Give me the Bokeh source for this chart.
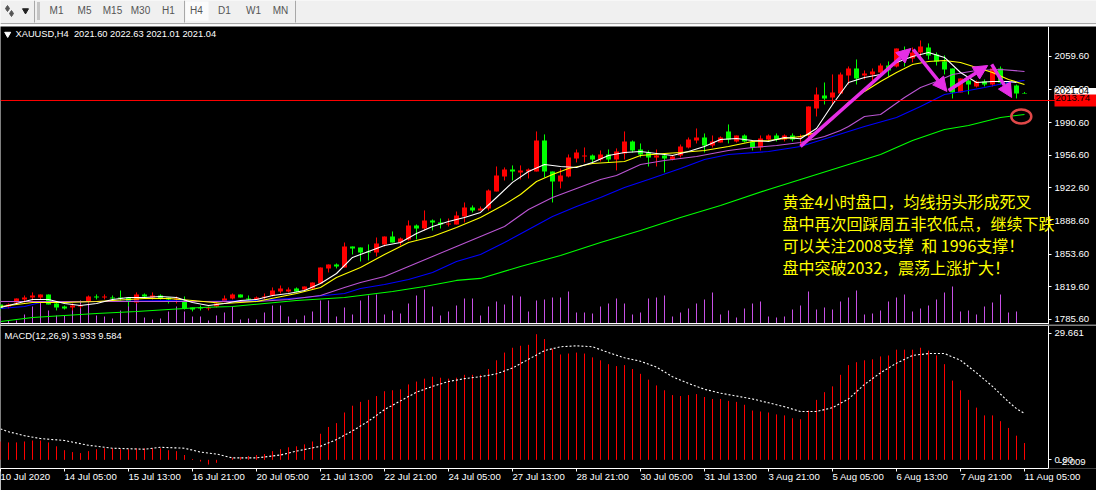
from bokeh.plotting import figure
from bokeh.layouts import column
from bokeh.models import (Range1d, LinearAxis, FixedTicker, Span, Label, Arrow, NormalHead,
                          NumeralTickFormatter)
from bokeh.core.properties import value
from bokeh.embed import file_html
from bokeh.resources import INLINE

FONT = "Liberation Sans"

opens = [1801.3,1799.2,1803.3,1806.5,1808.5,1808.5,1811.7,1802.3,1799.2,1798.1,1799.2,1804.4,1809.6,1808.5,1808.5,1808.5,1808.5,1803.3,1811.7,1808.5,
1810.6,1808.5,1806.5,1804.4,1798.1,1798.1,1797.1,1799.2,1804.4,1807.5,1811.7,1807.5,1806.5,1808.5,1810.6,1814.8,1814.8,1817.9,1816.9,1817.9,
1823.1,1838.8,1842.9,1839.8,1861.7,1860.6,1856.5,1855.4,1863.8,1872.1,1865.8,1869.0,1883.5,1880.4,1888.8,1886.7,1884.6,1884.6,1892.9,1902.3,
1899.2,1901.3,1919.0,1934.6,1941.9,1938.8,1939.8,1939.8,1972.1,1939.8,1929.4,1934.6,1953.4,1955.4,1956.5,1952.3,1957.5,1952.3,1958.6,1971.1,
1962.7,1959.6,1954.4,1956.5,1952.3,1956.5,1964.8,1972.1,1975.2,1966.9,1970.0,1981.5,1971.1,1977.3,1971.1,1964.8,1973.1,1977.3,1973.1,1977.3,
1975.2,1977.3,2005.4,2019.0,2016.9,2021.1,2039.8,2047.1,2039.8,2040.9,2042.9,2050.2,2049.2,2065.9,2057.5,2063.8,2069.0,2061.7,2054.4,2047.1,
2022.1,2034.6,2028.4,2033.6,2030.4,2047.1,2032.5,2029.4,2021.60]
highs = [1801.3,1802.3,1807.5,1810.6,1813.8,1811.7,1811.7,1804.4,1800.2,1802.3,1801.3,1810.6,1811.7,1811.7,1810.6,1815.8,1808.5,1813.8,1812.7,1813.8,
1811.7,1808.5,1809.6,1809.6,1798.1,1800.2,1799.2,1803.3,1810.6,1812.7,1811.7,1810.6,1809.6,1812.7,1819.0,1821.0,1819.0,1819.0,1820.0,1824.2,
1839.8,1842.9,1844.0,1865.8,1861.7,1860.6,1863.8,1871.0,1872.1,1877.3,1871.0,1888.8,1884.6,1899.2,1889.8,1890.8,1890.8,1898.1,1907.5,1904.4,
1903.3,1921.1,1945.0,1944.0,1946.1,1946.1,1942.9,1981.5,1978.4,1939.8,1942.9,1957.5,1962.7,1964.8,1957.5,1961.7,1962.7,1963.8,1981.5,1972.1,
1969.0,1961.7,1962.7,1957.5,1956.5,1967.9,1975.2,1984.6,1979.4,1977.3,1976.3,1988.8,1977.3,1978.4,1971.1,1977.3,1978.4,1979.4,1978.4,1979.4,
1978.4,2007.5,2027.3,2032.5,2040.9,2042.9,2049.2,2056.5,2045.0,2047.1,2052.3,2054.4,2067.9,2070.0,2069.0,2076.3,2073.2,2063.8,2060.7,2047.1,
2036.7,2038.8,2034.6,2035.7,2048.2,2049.2,2032.5,2030.4,2022.63]
lows = [1795.0,1797.1,1802.3,1803.3,1805.4,1806.5,1801.3,1795.0,1796.0,1795.0,1797.1,1802.3,1806.5,1806.5,1805.4,1805.4,1799.2,1802.3,1808.5,1806.5,
1806.5,1802.3,1802.3,1796.0,1794.0,1795.0,1795.0,1798.1,1803.3,1806.5,1808.5,1804.4,1805.4,1806.5,1809.6,1812.7,1813.8,1813.8,1814.8,1816.9,
1823.1,1834.6,1838.8,1839.8,1853.3,1846.0,1847.1,1851.3,1861.7,1865.8,1862.7,1867.9,1869.0,1878.3,1878.3,1880.4,1882.5,1884.6,1886.7,1897.1,
1899.2,1899.2,1919.0,1930.4,1930.4,1931.5,1932.5,1939.8,1933.6,1907.5,1922.1,1933.6,1949.2,1949.2,1949.2,1950.2,1949.2,1940.9,1952.3,1959.6,
1954.4,1945.0,1945.0,1938.8,1951.3,1954.4,1963.8,1969.0,1959.6,1964.8,1970.0,1969.0,1970.0,1970.0,1961.7,1961.7,1972.1,1971.1,1971.1,1971.1,
1966.9,1975.2,1997.1,2009.6,2009.6,2021.1,2030.4,2030.4,2035.7,2034.6,2040.9,2038.8,2048.2,2049.2,2053.4,2059.6,2056.5,2050.2,2040.9,2015.9,
2022.1,2020.0,2027.3,2028.4,2028.4,2030.4,2026.3,2015.9,2021.01]
closes = [1797.1,1801.3,1807.5,1808.5,1810.6,1811.7,1801.3,1798.1,1797.1,1800.2,1800.2,1809.6,1808.5,1809.6,1807.5,1807.5,1804.4,1811.7,1809.6,1810.6,
1807.5,1806.5,1807.5,1797.1,1796.0,1797.1,1798.1,1802.3,1807.5,1811.7,1808.5,1806.5,1808.5,1809.6,1815.8,1817.9,1816.9,1814.8,1820.0,1824.2,
1839.8,1842.9,1840.8,1861.7,1859.6,1855.4,1855.4,1864.8,1872.1,1865.8,1870.0,1883.5,1880.4,1888.8,1886.7,1884.6,1885.6,1894.0,1902.3,1899.2,
1901.3,1920.0,1935.6,1941.9,1939.8,1940.9,1941.9,1972.1,1939.8,1929.4,1935.6,1954.4,1959.6,1956.5,1952.3,1957.5,1952.3,1960.6,1971.1,1961.7,
1957.5,1954.4,1956.5,1953.4,1955.4,1965.9,1973.1,1975.2,1966.9,1971.1,1975.2,1973.1,1977.3,1971.1,1964.8,1974.2,1977.3,1973.1,1977.3,1973.1,
1976.3,2007.5,2020.0,2015.9,2022.1,2040.9,2047.1,2036.7,2041.9,2044.0,2050.2,2045.0,2067.9,2056.5,2063.8,2070.0,2060.7,2054.4,2046.1,2022.1,
2036.7,2030.4,2033.6,2030.4,2047.1,2032.5,2027.3,2021.1,2021.04]

volumes = [7,3,3,9,17,22,13,8,8,14,23,20,8,7,5,13,20,23,6,4,5,12,17,12,7,7,3,8,11,17,4,5,4,11,18,18,7,4,8,12,23,23,7,16,9,
23,28,29,9,13,10,20,28,34,17,8,12,18,25,25,8,17,22,19,28,27,12,23,24,26,26,32,11,11,10,17,20,25,20,9,11,25,26,28,7,11,15,20,
24,31,9,13,6,15,20,22,7,6,7,14,18,32,14,16,14,22,26,33,9,10,13,22,26,29,12,15,18,24,31,37,12,13,9,17,21,29,11,12,0]

ma_white_idx = list(range(0, 127, 2)) + [127]
ma_white = [1798.1,1802.3,1806.5,1806.5,1802.3,1800.2,1802.3,1806.5,1808.5,1808.5,1809.6,1808.5,1803.3,1800.2,1802.3,1805.4,1806.5,1810.6,1812.7,1815.8,1823.1,
1833.5,1850.2,1856.5,1862.7,1865.8,1875.2,1882.5,1887.7,1891.9,1897.1,1912.7,1928.4,1939.8,1947.1,1945.0,1944.0,1949.2,1956.5,1959.6,1960.6,1958.6,1956.5,1960.6,
1965.9,1973.1,1974.2,1972.1,1971.1,1975.2,1973.9,1984.6,2009.6,2032.5,2037.7,2040.9,2053.4,2059.6,2063.8,2058.6,2042.9,2032.5,2033.6,2033.6,2032.5]

ma_yellow_idx = [0,4,8,12,18,21,24,28,32,37,40,42,45,48,51,54,57,60,63,65,67,69,71,74,78,80,83,85,88,91,94,96,100,102,104,106,108,110,112,114,116,118,120,122,124,126,128]
ma_yellow = [1799.2,1803.3,1803.3,1804.4,1807.5,1807.5,1805.4,1802.3,1804.4,1812.7,1819.0,1829.4,1839.8,1853.3,1865.8,1872.1,1881.5,1891.9,1905.4,1915.8,1929.4,1936.7,1942.9,1948.1,
1950.2,1956.5,1958.6,1959.6,1961.7,1965.9,1971.1,1972.1,1976.3,1980.4,1994.0,2011.7,2023.2,2033.6,2042.9,2051.3,2054.4,2055.4,2053.4,2048.2,2042.9,2035.7,2030.4]

ma_purple_idx = [0,16,32,36,40,43,45,48,51,54,57,60,63,66,69,72,75,77,80,83,87,91,94,97,100,103,105,106,108,110,113,115,117,119,122,125,128]
ma_purple = [1804.4,1804.4,1804.4,1806.5,1810.6,1819.0,1824.2,1830.4,1840.8,1851.3,1861.7,1872.1,1882.5,1900.2,1912.7,1922.1,1931.5,1935.6,1947.1,1951.3,1955.4,1961.7,1964.8,1966.9,
1970.0,1976.3,1982.5,1986.7,1997.1,1999.2,2016.9,2027.3,2033.6,2040.9,2045.0,2046.1,2044.0]

ma_blue_idx = [0,3,5,12,21,25,32,38,43,45,48,51,54,57,60,63,66,69,72,75,78,81,85,88,91,96,100,102,104,108,112,115,118,121,123,126,128]
ma_blue = [1797.1,1799.2,1803.3,1804.4,1805.4,1804.4,1805.4,1808.5,1812.7,1817.9,1822.1,1827.3,1834.6,1846.0,1853.3,1865.8,1879.4,1892.9,1903.3,1912.7,1923.1,1931.5,1942.9,1952.3,
1957.5,1960.6,1965.9,1971.1,1976.3,1986.7,1996.1,2007.5,2020.0,2024.2,2027.3,2032.5,2034.6]

ma_green_idx = [0,4,8,12,17,21,25,29,33,37,43,46,49,53,57,60,65,70,75,80,85,90,96,102,106,110,114,118,121,125,128]
ma_green = [1783.5,1787.7,1789.8,1791.9,1794.0,1796.0,1798.1,1799.2,1802.3,1805.4,1808.5,1811.7,1814.8,1820.0,1826.3,1828.4,1840.8,1852.3,1865.8,1878.3,1891.9,1904.4,1921.1,1936.7,1947.1,1957.5,1972.1,1983.6,1987.7,1996.1,1999.2]

macd_hist = [4.3,4.08,4.08,4.3,4.53,4.53,4.08,3.17,2.26,1.81,1.58,2.04,2.49,2.72,2.72,2.49,2.49,2.72,2.72,2.72,2.72,2.26,2.04,1.13,0.2,-0.4,-1.1,-0.7,0.05,0.52,0.68,0.91,1.13,1.36,2.04,2.49,2.94,3.17,3.62,4.3,
6.11,7.7,8.6,11.09,12.68,13.58,14.04,14.94,16.07,16.3,16.53,17.66,18.34,19.02,19.47,19.24,19.02,19.24,19.92,19.92,19.92,21.28,23.32,25.13,26.26,26.72,26.94,29.43,28.3,26.04,24.68,24.9,25.13,24.9,24.0,
23.32,22.41,21.96,22.19,21.28,20.15,18.79,17.43,16.3,15.17,14.94,15.17,15.4,14.72,14.26,14.26,13.81,13.58,12.9,11.55,11.32,11.09,10.64,10.41,9.74,9.51,11.55,14.04,15.85,17.21,19.92,22.19,22.87,23.32,23.55,
24.22,24.45,25.81,25.81,25.81,26.26,25.58,24.45,22.41,18.56,16.3,14.04,12.23,10.41,10.41,9.06,7.47,5.66,3.933]

signal_idx = [0,1,3,5,8,11,14,18,20,23,25,27,29,32,35,37,40,42,44,46,48,50,52,54,56,58,60,62,64,66,68,70,72,74,76,78,80,82,84,86,88,90,92,94,96,98,100,102,104,106,108,110,112,114,116,118,120,122,124,126,127,128]
signal = [7.24,6.57,5.66,4.98,4.53,3.4,2.72,2.49,2.94,2.72,1.81,1.36,0.45,0.45,1.13,2.04,3.17,4.75,6.79,9.06,11.77,13.81,15.85,17.21,18.34,19.02,19.47,20.15,21.51,23.55,25.58,26.49,26.72,26.49,25.13,23.9,23.09,21.73,19.47,17.89,16.53,15.62,14.94,14.26,13.36,12.45,11.32,11.32,12.23,14.26,17.66,20.38,22.64,24.45,24.9,24.9,23.32,20.38,17.21,13.58,12.0,10.87]

date_labels = ["10 Jul 2020","14 Jul 05:00","15 Jul 13:00","16 Jul 21:00","20 Jul 05:00","21 Jul 13:00","22 Jul 21:00","24 Jul 05:00","27 Jul 13:00",
               "28 Jul 21:00","30 Jul 05:00","31 Jul 13:00","3 Aug 21:00","5 Aug 05:00","6 Aug 13:00","7 Aug 21:00","11 Aug 05:00"]
date_ticks = [8 * k for k in range(len(date_labels))]
price_ticks = [2059.6,2025.6,1990.6,1956.6,1922.6,1888.6,1853.6,1819.6,1785.6]
note_lines = ["黄金4小时盘口，均线拐头形成死叉","盘中再次回踩周五非农低点，继续下跌","可以关注2008支撑 \u00a0和 1996支撑！","盘中突破2032，震荡上涨扩大！"]
note_prices = [1909.5,1886.6,1863.7,1840.2]
tb_labels = ["M1","M5","M15","M30","H1","H4","D1","W1","MN"]
tb_x = [56,84,112,140,168,196,224,253,280]
arrows = [(100.0,1965.9,113.8,2067.9),(114.1,2066.9,118.3,2023.2),(118.5,2024.2,123.4,2050.2),(123.9,2051.3,126.4,2016.9)]

idx = list(range(len(opens)))
W = 1096
AXIS_X = 131
UP, DOWN = "#ff0000", "#00ff00"
cols = [UP if c >= o else DOWN for o, c in zip(opens, closes)]
X_RANGE = Range1d(0, 137)

def box_label(text, sx, y, color="white", fill=None, padding=0, size="9.4px"):
    kw = {"background_fill_color": fill} if fill else {}
    return Label(x=sx, y=y, x_units="screen", text=text, text_font=FONT, text_font_size=size, text_color=color,
                 text_baseline="middle", level="overlay", padding=padding, **kw)

# ---- toolbar strip
tb = figure(width=W, height=26, x_range=Range1d(0, 1096), y_range=Range1d(24, 0), toolbar_location=None,
            output_backend="svg", background_fill_color="#f0f0f0", border_fill_color="white",
            min_border=0, min_border_bottom=2, outline_line_color=None)
tb.axis.visible = False
tb.grid.visible = False
tb.quad(left=185, right=208, top=1, bottom=20, fill_color="#fbfbfb", line_color=None)
tb.segment(x0=[34,184,295,0], y0=[0,0,0,23], x1=[34,184,295,1096], y1=[22,22,22,23], line_color="#a8a8a8", line_width=1)
tb.segment(x0=[38], y0=[2], x1=[38], y1=[20], line_color="#9a9a9a", line_width=3, line_dash="1 1")
tb.scatter(x=[7,11], y=[8,13], marker="diamond", size=6, color="#555555")
tb.scatter(x=[25], y=[10], marker="inverted_triangle", size=6, color="#222222")
tb.text(x=tb_x, y=[10]*len(tb_x), text=tb_labels, text_font=value(FONT), text_font_size="10px", text_color="#555555",
        text_align="center", text_baseline="middle")

# ---- main price panel
p = figure(width=W, height=299, x_range=X_RANGE, y_range=Range1d(1780.38, 2090.83), toolbar_location=None,
           output_backend="svg", background_fill_color="black", border_fill_color="black",
           min_border=0, min_border_bottom=1, outline_line_color=None, y_axis_location=None)
p.xaxis.visible = False
p.grid.visible = False
p.extra_y_ranges["vol"] = Range1d(-1, 297)

ax = LinearAxis(ticker=FixedTicker(ticks=price_ticks), formatter=NumeralTickFormatter(format="0.00"),
                fixed_location=AXIS_X,
                axis_line_color="white", major_tick_line_color="white", major_tick_in=0, major_tick_out=3,
                minor_tick_line_color=None, major_label_text_color="white", major_label_text_font=FONT,
                major_label_text_font_size="9.6px", major_label_standoff=3)
p.add_layout(ax, "right")

p.segment(x0=idx, y0=[0]*len(idx), x1=idx, y1=volumes, y_range_name="vol", line_color="#c850e6", line_width=1)
p.segment(x0=idx, y0=lows, x1=idx, y1=highs, line_color=cols, line_width=1)
p.vbar(x=idx, bottom=[min(o, c) for o, c in zip(opens, closes)], top=[max(o, c) for o, c in zip(opens, closes)],
       width=0.625, fill_color=cols, line_color=None)
p.line(ma_green_idx, ma_green, line_color="#00ff00", line_width=1.1)
p.line(ma_blue_idx, ma_blue, line_color="#0000ff", line_width=1.1)
p.line(ma_purple_idx, ma_purple, line_color="#ba55d3", line_width=1.1)
p.line(ma_yellow_idx, ma_yellow, line_color="#ffff00", line_width=1.1)
p.line(ma_white_idx, ma_white, line_color="#ffffff", line_width=1.1)
p.add_layout(Span(location=2013.74, dimension="width", line_color="#ff0000", line_width=1))
p.segment(x0=[0], y0=[1781.42], x1=[AXIS_X], y1=[1781.42], line_color="white", line_width=1)
for x0, y0, x1, y1 in arrows:
    p.add_layout(Arrow(end=NormalHead(size=14, fill_color="#e62ee6", line_color="#e62ee6"), x_start=x0, y_start=y0, x_end=x1, y_end=y1,
                       line_color="#e62ee6", line_width=3.5))
p.ellipse(x=[127.6], y=[1997.1], width=2.5, height=14.6, fill_color=None, line_color="#e04848", line_width=2.5)
p.scatter(x=[0.9], y=[2083.0], marker="inverted_triangle", size=6, color="white")
p.add_layout(box_label("XAUUSD,H4 \u00a02021.60 2022.63 2021.01 2021.04", 15, 2083.0, size="9.3px"))
for line, price in zip(note_lines, note_prices):
    p.add_layout(Label(x=782, x_units="screen", y=price, text=line, text_font="Noto Sans CJK SC", text_font_size="16px",
                       text_color="#ffff00", text_baseline="middle", level="overlay"))
p.add_layout(box_label("2021.04", 1054, 2021.04, color="black", fill="white", padding=(0, 14, 0, 5), size="9.6px"))
p.add_layout(box_label("2013.74", 1054, 2013.74, color="black", fill="#ff0000", padding=(1, 14, 1, 5), size="9.6px"))

# ---- MACD panel
m = figure(width=W, height=165, x_range=X_RANGE, y_range=Range1d(-2.03, 31.47), toolbar_location=None,
           output_backend="svg", background_fill_color="black", border_fill_color="black",
           min_border=0, outline_line_color=None, y_axis_location=None, x_axis_location="below")
m.grid.visible = False
m.xaxis.ticker = FixedTicker(ticks=date_ticks)
m.xaxis.bounds = (0, AXIS_X)
m.xaxis.major_label_overrides = dict(zip(date_ticks, date_labels))
m.xaxis.axis_line_color = "white"
m.xaxis.major_tick_line_color = "white"
m.xaxis.major_tick_in = 0
m.xaxis.major_tick_out = 3
m.xaxis.minor_tick_line_color = None
m.xaxis.major_label_text_color = "white"
m.xaxis.major_label_text_font = FONT
m.xaxis.major_label_text_font_size = "9.6px"
m.xaxis.major_label_standoff = 5
m.xaxis.major_label_orientation = -0.0001

ay = LinearAxis(ticker=FixedTicker(ticks=[29.661, 0]), major_label_overrides={29.661: "29.661", 0: "0.00"},
                fixed_location=AXIS_X,
                axis_line_color="white", major_tick_line_color="white", major_tick_in=0, major_tick_out=3,
                minor_tick_line_color=None, major_label_text_color="white", major_label_text_font=FONT,
                major_label_text_font_size="9.6px", major_label_standoff=3)
m.add_layout(ay, "right")
m.segment(x0=idx, y0=[0]*len(idx), x1=idx, y1=macd_hist, line_color="#ff0000", line_width=1)
m.line(signal_idx, signal, line_color="white", line_width=1.1, line_dash="2 2")
m.segment(x0=[0], y0=[31.47], x1=[AXIS_X], y1=[31.47], line_color="white", line_width=1)
m.add_layout(box_label("MACD(12,26,9) 3.933 9.584", 4, 29.2))
m.add_layout(box_label("-2.009", 1058, -0.6, size="9.6px"))

page = column(tb, p, m, spacing=0)
open("out.html", "w").write(file_html(page, INLINE))
